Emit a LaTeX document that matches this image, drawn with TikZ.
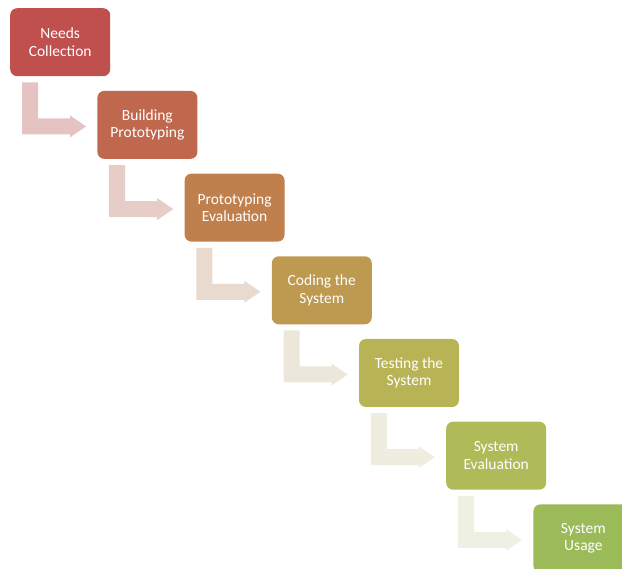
\documentclass[tikz,border=0pt]{standalone}
\usepackage{fontspec}
\setmainfont{Carlito}
\usetikzlibrary{calc}
\definecolor{c0}{RGB}{192,80,77}
\definecolor{c1}{RGB}{192,104,77}
\definecolor{c2}{RGB}{192,128,77}
\definecolor{c3}{RGB}{190,153,80}
\definecolor{c4}{RGB}{184,180,86}
\definecolor{c5}{RGB}{174,187,88}
\definecolor{c6}{RGB}{155,187,89}
\definecolor{a0}{RGB}{229,195,195}
\definecolor{a1}{RGB}{231,205,200}
\definecolor{a2}{RGB}{233,218,208}
\definecolor{a3}{RGB}{236,231,218}
\definecolor{a4}{RGB}{237,237,224}
\definecolor{a5}{RGB}{238,240,228}
\tikzset{
  stepbox/.style={draw=none, rounded corners=7pt, minimum width=100pt, minimum height=68pt,
    inner sep=0pt, anchor=north west, text=white, align=center,
    font=\fontsize{15.5}{17.5}\selectfont},
}
\newcommand{\bentarrow}[2]{%
  \fill[#2] ($(#1.south west)+(12,6)$) -- ($(#1.south west)+(28,6)$) -- ($(#1.south west)+(28,42)$)
    -- ($(#1.south west)+(60,42)$) -- ($(#1.south west)+(60,39)$) -- ($(#1.south west)+(76,50)$)
    -- ($(#1.south west)+(60,61)$) -- ($(#1.south west)+(60,58)$) -- ($(#1.south west)+(12,58)$) -- cycle;}
\begin{document}
\begin{tikzpicture}[x=1pt,y=-1pt]
\useasboundingbox (0,0) rectangle (622,569);
\clip (0,0) rectangle (622,569);
\node[stepbox, fill=c0] (b0) at (10,8) {Needs\\Collection};
\node[stepbox, fill=c1] (b1) at (97.2,90.7) {Building\\Prototyping};
\node[stepbox, fill=c2] (b2) at (184.4,173.4) {Prototyping\\Evaluation};
\node[stepbox, fill=c3] (b3) at (271.6,256.1) {Coding the\\System};
\node[stepbox, fill=c4] (b4) at (358.8,338.8) {Testing the\\System};
\node[stepbox, fill=c5] (b5) at (446,421.5) {System\\Evaluation};
\node[stepbox, fill=c6] (b6) at (533.2,504.2) {System\\Usage};
\bentarrow{b0}{a0}
\bentarrow{b1}{a1}
\bentarrow{b2}{a2}
\bentarrow{b3}{a3}
\bentarrow{b4}{a4}
\bentarrow{b5}{a5}
\end{tikzpicture}
\end{document}
